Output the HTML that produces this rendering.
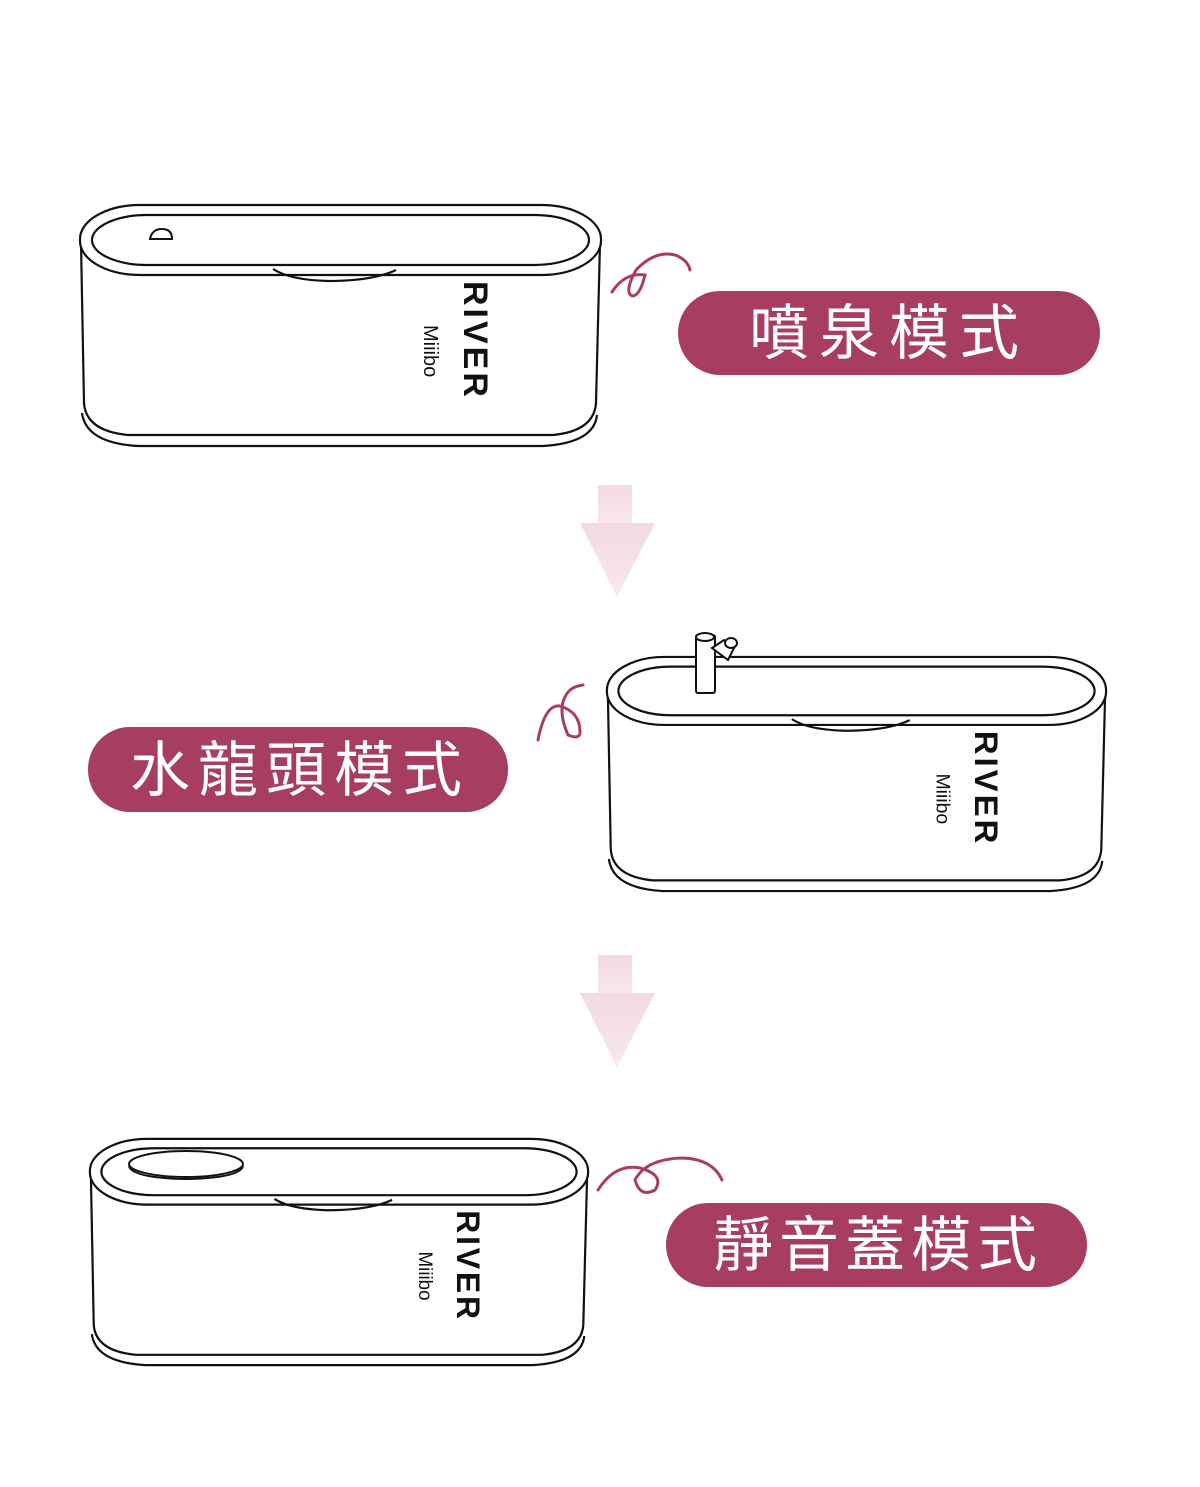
<!DOCTYPE html>
<html><head><meta charset="utf-8"><style>
html,body{margin:0;padding:0;background:#fff;}
svg{display:block;}
.pill{font-family:"Liberation Sans","Noto Sans CJK TC",sans-serif;fill:#fff;}
</style></head><body>
<svg width="1200" height="1487" viewBox="0 0 1200 1487" xmlns="http://www.w3.org/2000/svg">
<defs>
<symbol id="box" viewBox="0 0 525 245" preserveAspectRatio="none">
 <g fill="none" stroke="#111" stroke-width="2.2" vector-effect="non-scaling-stroke">
  <path vector-effect="non-scaling-stroke" d="M4,210 Q8,240 60,243 L465,243 Q516,240 519,212"/>
  <path vector-effect="non-scaling-stroke" fill="#fff" d="M3,40 L6,200 Q8,228 50,232 L475,232 Q516,228 518,200 L522,40"/>
  <rect vector-effect="non-scaling-stroke" fill="#fff" x="2" y="2" width="521" height="70" rx="60" ry="34"/>
  <rect vector-effect="non-scaling-stroke" x="14" y="12" width="497" height="50" rx="55" ry="25"/>
  <path vector-effect="non-scaling-stroke" d="M195,66 Q212,77 250,78 Q295,78 318,67"/>
 </g>
 <text transform="translate(386,78) rotate(90)" font-family="Liberation Sans,sans-serif" font-size="34" font-weight="bold" letter-spacing="3" fill="#111">RIVER</text>
 <text transform="translate(346,122) rotate(90)" font-family="Liberation Sans,sans-serif" font-size="20" fill="#111">Miiibo</text>
</symbol>
<linearGradient id="ag" x1="0" y1="0" x2="0" y2="1">
 <stop offset="0" stop-color="#f3d9e1"/><stop offset="1" stop-color="#f8e8ed"/>
</linearGradient>
</defs>

<use href="#box" x="78" y="203" width="525" height="245"/>
<path d="M150,239 Q152,229 162,229 Q172,229 172,239 Z" fill="none" stroke="#111" stroke-width="2"/>

<path d="M612,292 Q625,272 645,275 Q640,296 632,296 Q624,292 636,270 Q655,250 675,255 Q688,260 690,270" fill="none" stroke="#a83d64" stroke-width="3" stroke-linecap="round"/>
<rect x="678" y="291" width="422" height="84" rx="42" fill="#a83d64"/>
<text class="pill" x="889" y="354" font-size="60" text-anchor="middle" letter-spacing="10">噴泉模式</text>

<rect x="598" y="485" width="34" height="40" fill="url(#ag)"/>
<polygon points="580,523 655,523 617,597" fill="url(#ag)"/>

<use href="#box" x="605" y="655" width="503" height="238"/>
<rect x="696" y="635" width="19" height="58" fill="#fff" stroke="#111" stroke-width="2" rx="2"/>
<ellipse cx="705" cy="637" rx="9" ry="4" fill="#fff" stroke="#111" stroke-width="2"/>
<path d="M712,648 L724,640 L735,646 L728,660 Z" fill="#fff" stroke="#111" stroke-width="2"/>
<ellipse cx="731" cy="643" rx="6" ry="5" fill="#fff" stroke="#111" stroke-width="2"/>

<path d="M583,685 Q575,686 570,690 Q555,705 568,735 Q580,740 580,732 Q580,712 560,706 Q545,704 538,740" fill="none" stroke="#a83d64" stroke-width="3" stroke-linecap="round"/>
<rect x="88" y="727" width="420" height="85" rx="42" fill="#a83d64"/>
<text class="pill" x="300" y="791" font-size="60" text-anchor="middle" letter-spacing="8">水龍頭模式</text>

<rect x="598" y="955" width="34" height="40" fill="url(#ag)"/>
<polygon points="580,993 655,993 617,1067" fill="url(#ag)"/>

<use href="#box" x="88" y="1137" width="502" height="230"/>
<ellipse cx="186" cy="1164" rx="57" ry="13" fill="#fff" stroke="#111" stroke-width="2"/>
<path d="M129,1166 Q132,1178 186,1179 Q240,1178 243,1166" fill="none" stroke="#111" stroke-width="2"/>

<path d="M598,1190 Q615,1163 640,1168 Q665,1175 655,1190 Q640,1198 635,1180 Q645,1160 680,1158 Q712,1158 722,1180" fill="none" stroke="#a83d64" stroke-width="3" stroke-linecap="round"/>
<rect x="666" y="1203" width="421" height="84" rx="42" fill="#a83d64"/>
<text class="pill" x="878" y="1266" font-size="60" text-anchor="middle" letter-spacing="6">靜音蓋模式</text>
</svg>
</body></html>
